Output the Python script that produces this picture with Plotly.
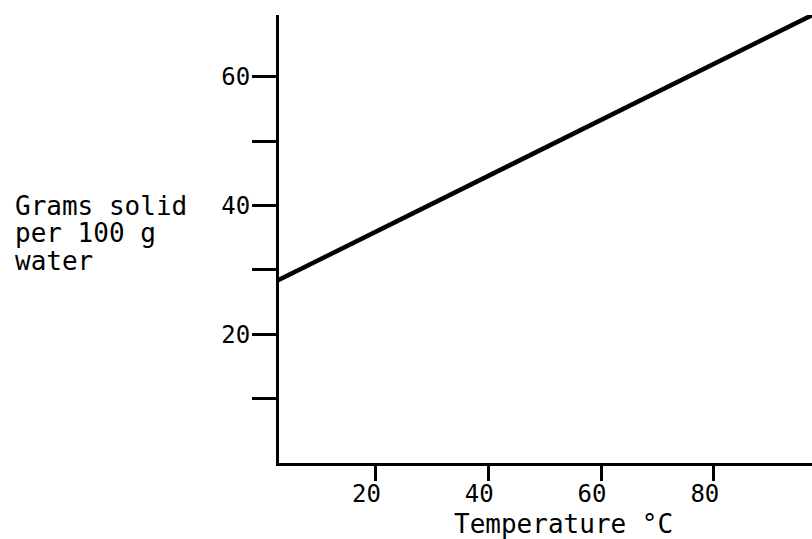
import plotly.graph_objects as go

# Data
temperature_c = [0, 100]
grams_solid = [27.2, 70.7]

y_tick_vals = [10, 20, 30, 40, 50, 60]
y_tick_text = ["", "20", "", "40", "", "60"]
x_tick_vals = [20, 40, 60, 80]
x_tick_text = ["20", "40", "60", "80"]

y_label_lines = ["Grams solid", "per 100 g", "water"]
x_label = "Temperature °C"

FONT = "DejaVu Sans Mono"

fig = go.Figure()
fig.add_trace(go.Scatter(
    x=temperature_c, y=grams_solid, mode="lines",
    line=dict(color="black", width=4.5), hoverinfo="skip", showlegend=False,
))

fig.update_xaxes(
    range=[2.9, 97.4], showgrid=False, zeroline=False,
    showline=True, linecolor="black", linewidth=3,
    ticks="outside", ticklen=15, tickwidth=3, tickcolor="black",
    tickvals=x_tick_vals, ticktext=x_tick_text,
    tickfont=dict(family=FONT, size=24, color="black"),
    ticklabelshift=-9, ticklabelstandoff=-8,
)
fig.update_yaxes(
    range=[0, 69.6], showgrid=False, zeroline=False,
    showline=True, linecolor="black", linewidth=3,
    ticks="outside", ticklen=24, tickwidth=3, tickcolor="black",
    tickvals=y_tick_vals, ticktext=y_tick_text,
    tickfont=dict(family=FONT, size=24, color="black"),
    ticklabelstandoff=-3,
)

annotations = []
y_positions = [0.5737, 0.5134, 0.4509]
for txt, yp in zip(y_label_lines, y_positions):
    annotations.append(dict(
        text=txt, xref="paper", yref="paper", x=-0.4996, y=yp,
        xanchor="left", yanchor="middle", showarrow=False,
        font=dict(family=FONT, size=26, color="black"),
    ))
annotations.append(dict(
    text=x_label, xref="paper", yref="paper", x=0.533, y=-0.136,
    xanchor="center", yanchor="middle", showarrow=False,
    font=dict(family=FONT, size=26, color="black"),
))

fig.update_layout(
    width=812, height=539,
    margin=dict(l=279, r=0, t=15, b=76),
    paper_bgcolor="white", plot_bgcolor="white",
    annotations=annotations,
)

fig.write_html(
    "out.html",
    config={"displayModeBar": False},
    post_script="document.body.style.margin='0';document.body.style.overflow='hidden';",
)
